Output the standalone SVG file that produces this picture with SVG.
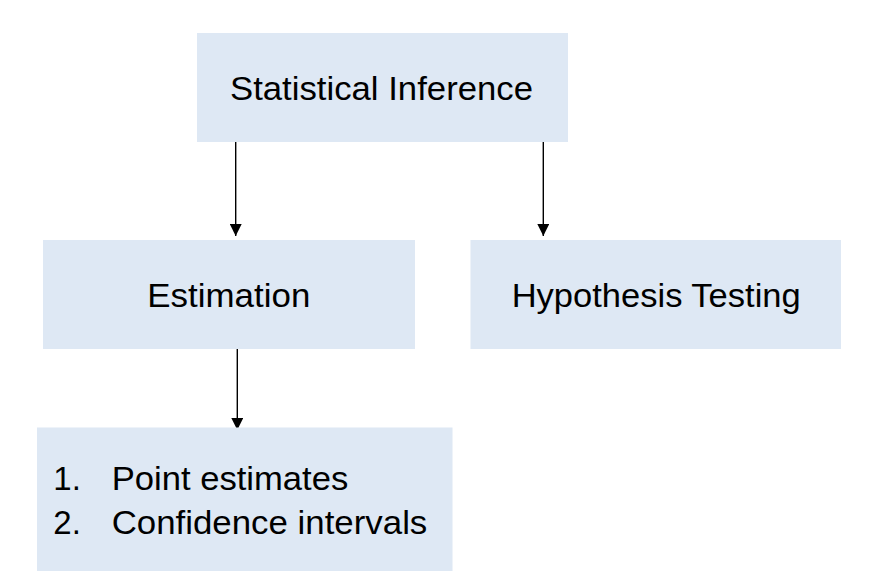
<svg xmlns="http://www.w3.org/2000/svg" width="879" height="578" viewBox="0 0 879 578">
  <style>
    .box { fill: #dee8f4; }
    .lbl { font-family: "Liberation Sans", Arial, sans-serif; font-size: 33px; fill: #000; }
    .conn { stroke: #000; stroke-width: 1.4; fill: none; }
  </style>
  <defs>
    <marker id="arr" markerUnits="userSpaceOnUse" markerWidth="12" markerHeight="12" refX="12" refY="6" orient="auto">
      <path d="M0,0 L12,6 L0,12 z" fill="#000"/>
    </marker>
  </defs>
  <rect width="879" height="578" fill="#fff"/>
  <g id="connectors">
    <line class="conn" x1="235.7" y1="137" x2="235.7" y2="236" marker-end="url(#arr)"/>
    <line class="conn" x1="543.3" y1="137" x2="543.3" y2="236" marker-end="url(#arr)"/>
    <line class="conn" x1="237.3" y1="348" x2="237.3" y2="430" marker-end="url(#arr)"/>
  </g>
  <g id="node-inference">
    <rect class="box" x="197" y="33" width="371" height="109"/>
    <text class="lbl" x="230" y="100" textLength="303" lengthAdjust="spacingAndGlyphs">Statistical Inference</text>
  </g>
  <g id="node-estimation">
    <rect class="box" x="43" y="240" width="372" height="109"/>
    <text class="lbl" x="147.3" y="307" textLength="163" lengthAdjust="spacingAndGlyphs">Estimation</text>
  </g>
  <g id="node-hypothesis">
    <rect class="box" x="470.5" y="240" width="370.5" height="109"/>
    <text class="lbl" x="511.7" y="307" textLength="289" lengthAdjust="spacingAndGlyphs">Hypothesis Testing</text>
  </g>
  <g id="node-list">
    <rect class="box" x="37" y="427.5" width="415.5" height="143.5"/>
    <text class="lbl" x="53.3" y="490">1.</text>
    <text class="lbl" x="111.7" y="490" textLength="236.6" lengthAdjust="spacingAndGlyphs">Point estimates</text>
    <text class="lbl" x="53.3" y="534">2.</text>
    <text class="lbl" x="111.7" y="534" textLength="315.6" lengthAdjust="spacingAndGlyphs">Confidence intervals</text>
  </g>
</svg>
